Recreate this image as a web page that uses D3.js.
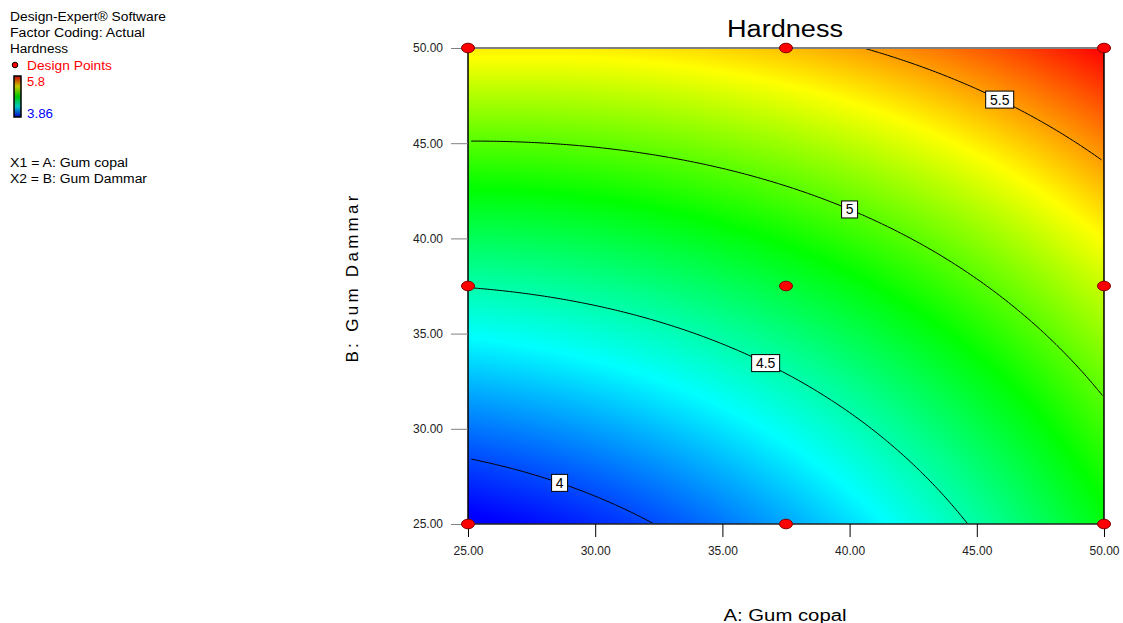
<!DOCTYPE html>
<html>
<head>
<meta charset="utf-8">
<script src="https://cdn.jsdelivr.net/npm/d3@7"></script>
<style>
  body { margin: 0; background: #fff; }
  svg { font-family: "Liberation Sans", Arial, sans-serif; display: block; }
</style>
</head>
<body>
<svg id="chart" width="1123" height="623"></svg>
<script>
// ---- data ------------------------------------------------------------------
var legendLines = ['Design-Expert\u00AE Software', 'Factor Coding: Actual', 'Hardness'];
var legendWidths = [156, 135, 58];
var factorLines = ['X1 = A: Gum copal', 'X2 = B: Gum Dammar'];
var factorWidths = [118, 137];
var xTicks = [25, 30, 35, 40, 45, 50];
var yTicks = [25, 30, 35, 40, 45, 50];
// design points (A, B)
var designA = [25, 37.5, 50, 25, 37.5, 50, 25, 37.5, 50];
var designB = [25, 25, 25, 37.5, 37.5, 37.5, 50, 50, 50];
// coded quadratic model: b0, A, B, AB, A^2, B^2
var coefs = [4.72, 0.355, 0.63, -0.13, 0.14, 0.087];
var responseRange = [3.86, 5.8];
var contourLevels = [4, 4.5, 5, 5.5];
var labelA = [28.6, 36.7, 40.0, 45.9];

// ---- layout ----------------------------------------------------------------
var plot = { left: 468, right: 1104, top: 48, bottom: 524 };
var svg = d3.select('#chart');

var x = d3.scaleLinear().domain([25, 50]).range([plot.left, plot.right]);
var y = d3.scaleLinear().domain([25, 50]).range([plot.bottom, plot.top]);

function model(a, b) {
  var cx = (a - 37.5) / 12.5, cy = (b - 37.5) / 12.5;
  return coefs[0] + coefs[1] * cx + coefs[2] * cy + coefs[3] * cx * cy +
    coefs[4] * cx * cx + coefs[5] * cy * cy;
}

var color = d3.scaleLinear()
  .domain([0, 0.25, 0.5, 0.75, 1].map(function(t) {
    return responseRange[0] + t * (responseRange[1] - responseRange[0]);
  }))
  .range(['#0000ff', '#00ffff', '#00ff00', '#ffff00', '#ff0000'])
  .clamp(true);

// ---- surface fill (raster) -------------------------------------------------
var pw = plot.right - plot.left, ph = plot.bottom - plot.top;
var cnv = document.createElement('canvas');
cnv.width = pw; cnv.height = ph;
var ctx = cnv.getContext('2d');
var img = ctx.createImageData(pw, ph);
for (var j = 0; j < ph; j++) {
  for (var i = 0; i < pw; i++) {
    var c = d3.rgb(color(model(x.invert(plot.left + i + 0.5), y.invert(plot.top + j + 0.5))));
    var k = (j * pw + i) * 4;
    img.data[k] = c.r; img.data[k + 1] = c.g; img.data[k + 2] = c.b; img.data[k + 3] = 255;
  }
}
ctx.putImageData(img, 0, 0);
svg.append('image')
  .attr('x', plot.left).attr('y', plot.top)
  .attr('width', pw).attr('height', ph)
  .attr('preserveAspectRatio', 'none')
  .attr('href', cnv.toDataURL());

// ---- contours --------------------------------------------------------------
var nx = 201, ny = 201;
var grid = new Array(nx * ny);
for (var gj = 0; gj < ny; gj++) {
  for (var gi = 0; gi < nx; gi++) {
    grid[gj * nx + gi] = model(25 + 25 * gi / (nx - 1), 50 - 25 * gj / (ny - 1));
  }
}
var contours = d3.contours().size([nx, ny]).smooth(true).thresholds(contourLevels)(grid);
var gx = d3.scaleLinear().domain([0, nx - 1]).range([plot.left, plot.right]);
var gy = d3.scaleLinear().domain([0, ny - 1]).range([plot.top, plot.bottom]);

svg.append('clipPath').attr('id', 'plotclip')
  .append('rect').attr('x', plot.left).attr('y', plot.top).attr('width', pw).attr('height', ph);

// keep only the iso-line parts of each ring (drop the grid border)
contours.forEach(function(ct) {
  ct.coordinates.forEach(function(poly) {
    poly.forEach(function(ring) {
      var segs = [], cur = [];
      ring.forEach(function(p) {
        var onEdge = p[0] <= 0.5 || p[0] >= nx - 0.5 || p[1] <= 0.5 || p[1] >= ny - 0.5;
        if (onEdge) { if (cur.length > 1) segs.push(cur); cur = []; }
        else cur.push([gx(p[0] - 0.5), gy(p[1] - 0.5)]);
      });
      if (cur.length > 1) segs.push(cur);
      segs.forEach(function(s) {
        svg.append('path')
          .attr('clip-path', 'url(#plotclip)')
          .attr('d', d3.line()(s))
          .attr('fill', 'none').attr('stroke', '#000').attr('stroke-width', 1);
      });
    });
  });
});

// contour labels: find B on the iso-line at the given A
contourLevels.forEach(function(lv, n) {
  var a = labelA[n];
  var b = d3.range(25, 50.0001, 0.01).reduce(function(best, bb) {
    return Math.abs(model(a, bb) - lv) < Math.abs(model(a, best) - lv) ? bb : best;
  }, 25);
  var txt = String(lv);
  var w = txt.length > 1 ? 28 : 16;
  svg.append('rect')
    .attr('x', x(a) - w / 2).attr('y', y(b) - 8.5)
    .attr('width', w).attr('height', 17)
    .attr('fill', '#fff').attr('stroke', '#000').attr('stroke-width', 1);
  svg.append('text')
    .attr('x', x(a)).attr('y', y(b) + 5)
    .attr('text-anchor', 'middle').attr('font-size', 14).attr('fill', '#000')
    .text(txt);
});

// ---- frame & axes ----------------------------------------------------------
svg.append('line').attr('x1', plot.left).attr('x2', plot.right).attr('y1', plot.top).attr('y2', plot.top)
  .attr('stroke', '#808080').attr('stroke-width', 2);
svg.append('line').attr('x1', plot.right).attr('x2', plot.right).attr('y1', plot.top).attr('y2', plot.bottom)
  .attr('stroke', '#000').attr('stroke-width', 1.5);
svg.append('line').attr('x1', plot.left).attr('x2', plot.left).attr('y1', plot.top).attr('y2', plot.bottom)
  .attr('stroke', '#000').attr('stroke-width', 1.5);
svg.append('line').attr('x1', plot.left).attr('x2', plot.right).attr('y1', plot.bottom).attr('y2', plot.bottom)
  .attr('stroke', '#222').attr('stroke-width', 1.5);

var xAxis = svg.append('g').attr('transform', 'translate(0,' + plot.bottom + ')')
  .call(d3.axisBottom(x).tickValues(xTicks).tickSize(13).tickPadding(9).tickFormat(d3.format('.2f')));
var yAxis = svg.append('g').attr('transform', 'translate(' + plot.left + ',0)')
  .call(d3.axisLeft(y).tickValues(yTicks).tickSize(17).tickPadding(8).tickFormat(d3.format('.2f')));
[xAxis, yAxis].forEach(function(g) {
  g.select('.domain').remove();
  g.selectAll('text').attr('font-size', 12).attr('fill', '#222')
    .attr('font-family', '"Liberation Sans", Arial, sans-serif');
});
xAxis.selectAll('line').attr('stroke', '#000');
yAxis.selectAll('line').attr('stroke', '#808080');

// ---- design points ---------------------------------------------------------
svg.selectAll('ellipse.dp').data(designA).enter().append('ellipse')
  .attr('class', 'dp')
  .attr('cx', function(d) { return x(d); })
  .attr('cy', function(d, i) { return y(designB[i]); })
  .attr('rx', 6.5).attr('ry', 4.8)
  .attr('fill', '#ff0000').attr('stroke', '#800000').attr('stroke-width', 1);

// ---- titles ----------------------------------------------------------------
svg.append('text').attr('x', 785).attr('y', 37)
  .attr('text-anchor', 'middle').attr('font-size', 23).attr('fill', '#000')
  .attr('textLength', 116).attr('lengthAdjust', 'spacingAndGlyphs').text('Hardness');
svg.append('text').attr('x', 785).attr('y', 621)
  .attr('text-anchor', 'middle').attr('font-size', 16).attr('fill', '#000')
  .attr('textLength', 123).attr('lengthAdjust', 'spacingAndGlyphs').text('A: Gum copal');
svg.append('text')
  .attr('transform', 'translate(358,279) rotate(-90)')
  .attr('text-anchor', 'middle').attr('font-size', 17).attr('fill', '#000')
  .attr('textLength', 167).attr('lengthAdjust', 'spacing')
  .text('B: Gum Dammar');

// ---- left legend -----------------------------------------------------------
var lg = svg.append('g').attr('font-size', 12);
legendLines.forEach(function(t, i) {
  lg.append('text').attr('x', 10).attr('y', 21 + i * 16).attr('fill', '#000')
    .attr('textLength', legendWidths[i]).attr('lengthAdjust', 'spacingAndGlyphs').text(t);
});
lg.append('circle').attr('cx', 15).attr('cy', 65).attr('r', 2.8)
  .attr('fill', '#ff0000').attr('stroke', '#000').attr('stroke-width', 1);
lg.append('text').attr('x', 27).attr('y', 70).attr('fill', '#ff0000')
  .attr('textLength', 85).attr('lengthAdjust', 'spacingAndGlyphs').text('Design Points');

var grad = svg.append('defs').append('linearGradient').attr('id', 'cbar')
  .attr('x1', 0).attr('x2', 0).attr('y1', 1).attr('y2', 0);
color.range().forEach(function(c, i) {
  grad.append('stop').attr('offset', (i / 4 * 100) + '%').attr('stop-color', d3.color(c).darker(0.7));
});
lg.append('rect').attr('x', 14).attr('y', 76).attr('width', 7).attr('height', 41)
  .attr('fill', 'url(#cbar)').attr('stroke', '#000').attr('stroke-width', 1.5);
lg.append('text').attr('x', 27).attr('y', 86).attr('fill', '#ff0000')
  .attr('textLength', 18).attr('lengthAdjust', 'spacingAndGlyphs').text(String(responseRange[1]));
lg.append('text').attr('x', 27).attr('y', 118).attr('fill', '#0000ff')
  .attr('textLength', 26).attr('lengthAdjust', 'spacingAndGlyphs').text(String(responseRange[0]));

factorLines.forEach(function(t, i) {
  lg.append('text').attr('x', 10).attr('y', 167 + i * 16).attr('fill', '#000')
    .attr('textLength', factorWidths[i]).attr('lengthAdjust', 'spacingAndGlyphs').text(t);
});
</script>
</body>
</html>
